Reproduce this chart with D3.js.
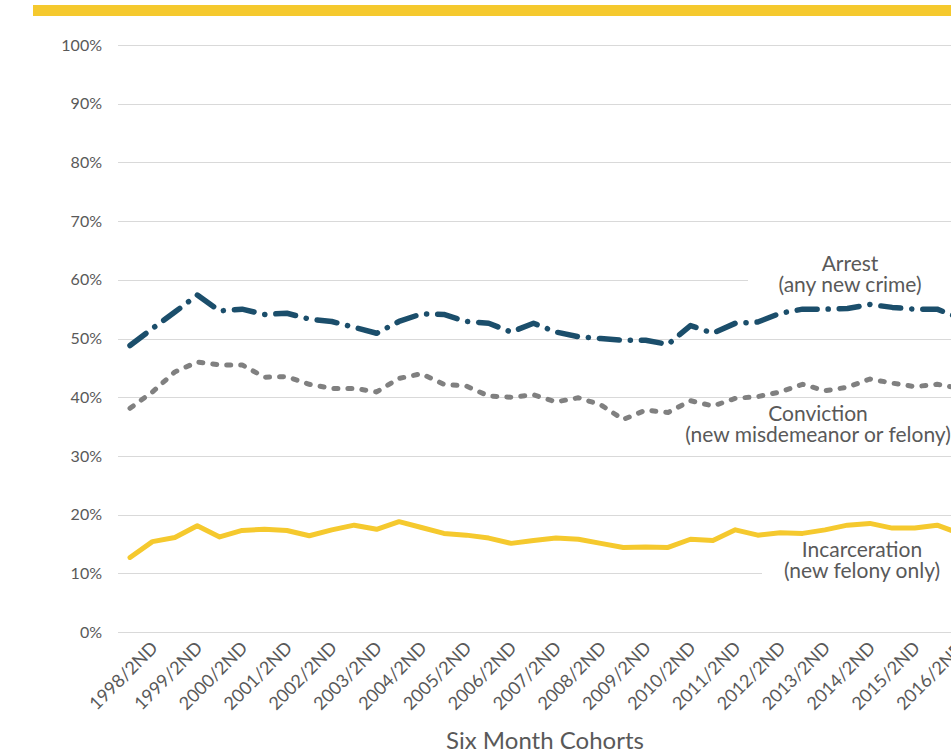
<!DOCTYPE html>
<html>
<head>
<meta charset="utf-8">
<script src="https://cdn.jsdelivr.net/npm/d3@7"></script>
<style>
  body { margin: 0; background: #fff; }
  svg { display: block; }
  text { font-family: Lato, "Open Sans", sans-serif; }
</style>
</head>
<body>
<svg id="chart" width="951" height="752"></svg>
<script>
// Six-month release cohorts
const cohorts = [
  "1998/1ST", "1998/2ND", "1999/1ST", "1999/2ND", "2000/1ST", "2000/2ND",
  "2001/1ST", "2001/2ND", "2002/1ST", "2002/2ND", "2003/1ST", "2003/2ND",
  "2004/1ST", "2004/2ND", "2005/1ST", "2005/2ND", "2006/1ST", "2006/2ND",
  "2007/1ST", "2007/2ND", "2008/1ST", "2008/2ND", "2009/1ST", "2009/2ND",
  "2010/1ST", "2010/2ND", "2011/1ST", "2011/2ND", "2012/1ST", "2012/2ND",
  "2013/1ST", "2013/2ND", "2014/1ST", "2014/2ND", "2015/1ST", "2015/2ND",
  "2016/1ST", "2016/2ND"
];

// Recidivism rates (%)
const arrest = [
  48.8, 51.7, 54.5, 57.4, 54.7, 55.0, 54.1, 54.3, 53.3, 52.9,
  51.9, 50.9, 52.9, 54.2, 54.1, 52.9, 52.6, 51.1, 52.6, 51.1,
  50.3, 50.0, 49.7, 49.7, 49.0, 52.2, 50.9, 52.6, 52.8, 54.3,
  55.0, 55.0, 55.1, 55.8, 55.3, 55.0, 55.0, 53.5
];
const conviction = [
  38.1, 40.9, 44.3, 46.0, 45.5, 45.5, 43.4, 43.5, 42.2, 41.5,
  41.5, 40.9, 43.2, 44.0, 42.2, 41.9, 40.2, 40.0, 40.4, 39.2,
  39.9, 38.7, 36.2, 37.8, 37.4, 39.4, 38.5, 39.8, 40.1, 40.9,
  42.2, 41.1, 41.7, 43.1, 42.4, 41.8, 42.2, 41.5
];
const incarceration = [
  12.7, 15.4, 16.1, 18.1, 16.2, 17.3, 17.5, 17.3, 16.4, 17.4,
  18.2, 17.5, 18.8, 17.8, 16.8, 16.5, 16.0, 15.1, 15.6, 16.0,
  15.8, 15.1, 14.4, 14.5, 14.4, 15.8, 15.6, 17.4, 16.5, 16.9,
  16.8, 17.4, 18.2, 18.5, 17.7, 17.7, 18.2, 16.8
];

const yTicks = [0, 10, 20, 30, 40, 50, 60, 70, 80, 90, 100];
const xTickLabels = cohorts.filter(c => c.endsWith("2ND"));

const svg = d3.select("#chart");
const W = 951;
const left = 118;

const x = d3.scalePoint().domain(cohorts).range([130, 130 + 22.42 * (cohorts.length - 1)]);
const y = d3.scaleLinear().domain([0, 100]).range([632, 45]);

// Yellow banner across the top
svg.append("rect")
  .attr("x", 33).attr("y", 5).attr("width", W - 33).attr("height", 11)
  .attr("fill", "#f5c92e");

// Horizontal gridlines
svg.append("g")
  .selectAll("line")
  .data(yTicks)
  .join("line")
  .attr("x1", left).attr("x2", W)
  .attr("y1", d => Math.round(y(d)) + 0.5)
  .attr("y2", d => Math.round(y(d)) + 0.5)
  .attr("stroke", "#d9d9d9")
  .attr("stroke-width", 1);

// Y axis labels
const yAxis = svg.append("g")
  .attr("transform", `translate(${left},0)`)
  .call(d3.axisLeft(y).tickValues(yTicks).tickFormat(d => d + "%").tickSize(0).tickPadding(16));
yAxis.select(".domain").remove();
yAxis.selectAll("text")
  .attr("fill", "#595959")
  .style("font-size", "16px");

// X axis labels, rotated
const xAxis = svg.append("g")
  .attr("transform", `translate(0,${y(0)})`)
  .call(d3.axisBottom(x).tickValues(xTickLabels).tickSize(0));
xAxis.select(".domain").remove();
xAxis.selectAll("text")
  .attr("x", 0).attr("y", 0).attr("dy", 0)
  .attr("text-anchor", "end")
  .attr("transform", "translate(6,17) rotate(-45)")
  .attr("fill", "#595959")
  .style("font-size", "18px");

// Axis title
svg.append("text")
  .attr("x", 545).attr("y", 749)
  .attr("text-anchor", "middle")
  .attr("fill", "#595959")
  .style("font-size", "24px")
  .text("Six Month Cohorts");

// White boxes behind the series labels
const boxes = [
  { x: 748, y: 250, w: 220, h: 46 },
  { x: 762, y: 537, w: 200, h: 46 }
];
svg.append("g").selectAll("rect").data(boxes).join("rect")
  .attr("x", d => d.x).attr("y", d => d.y)
  .attr("width", d => d.w).attr("height", d => d.h)
  .attr("fill", "#fff");

const line = d3.line()
  .x((d, i) => x(cohorts[i]))
  .y(d => y(d));

const series = [
  { values: incarceration, color: "#f5c92e", width: 5, dash: null },
  { values: conviction, color: "#808080", width: 5, dash: "4,10" },
  { values: arrest, color: "#1b4e6b", width: 5.5, dash: "20,11,0.1,11" }
];

svg.append("g").selectAll("path").data(series).join("path")
  .attr("d", d => line(d.values))
  .attr("fill", "none")
  .attr("stroke", d => d.color)
  .attr("stroke-width", d => d.width)
  .attr("stroke-linejoin", "round")
  .attr("stroke-linecap", "round")
  .attr("stroke-dasharray", d => d.dash);

// Series labels
const labels = [
  { lines: ["Arrest", "(any new crime)"], cx: 850, y: 271 },
  { lines: ["Conviction", "(new misdemeanor or felony)"], cx: 818, y: 421 },
  { lines: ["Incarceration", "(new felony only)"], cx: 862, y: 557 }
];
labels.forEach(l => {
  const t = svg.append("text")
    .attr("text-anchor", "middle")
    .attr("fill", "#595959")
    .style("font-size", "21px");
  l.lines.forEach((s, i) => {
    t.append("tspan").attr("x", l.cx).attr("y", l.y + i * 20.5).text(s);
  });
});
</script>
</body>
</html>
